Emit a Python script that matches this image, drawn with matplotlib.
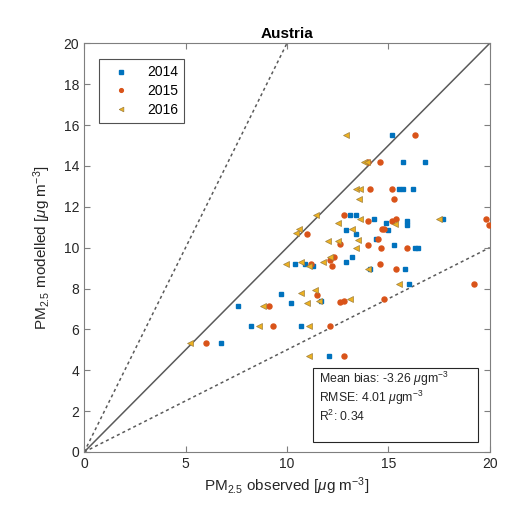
import matplotlib.pyplot as plt
from matplotlib.patches import Rectangle


# observed / modelled PM2.5 per year
obs_2014 = [15.2, 15.7, 16.8, 15.5, 15.7, 16.2, 13.1, 13.4, 14.3, 14.9, 15.9, 15.9,
            17.7, 12.9, 15.0, 13.4, 14.4, 15.3, 16.3, 16.45, 13.2, 12.9, 10.4, 10.9,
            11.3, 14.1, 15.8, 16.0, 9.7, 10.2, 11.7, 7.6, 8.25, 10.7, 6.75, 12.05]
mod_2014 = [15.5, 14.2, 14.2, 12.85, 12.85, 12.85, 11.6, 11.6, 11.4, 11.2, 11.3, 11.1,
            11.4, 10.85, 10.85, 10.65, 10.4, 10.15, 10.0, 10.0, 9.55, 9.3, 9.2, 9.2,
            9.1, 8.95, 8.95, 8.2, 7.75, 7.3, 7.4, 7.15, 6.15, 6.15, 5.35, 4.7]

obs_2015 = [16.3, 14.0, 14.6, 14.1, 15.2, 15.3, 12.8, 14.0, 15.2, 15.4, 19.8, 19.95,
            14.7, 14.8, 11.0, 14.5, 14.0, 14.65, 15.9, 12.3, 12.1, 12.2, 11.2, 14.6,
            15.4, 19.2, 11.5, 12.6, 12.8, 14.8, 9.1, 9.3, 12.1, 6.0, 12.8, 12.6]
mod_2015 = [15.5, 14.2, 14.2, 12.85, 12.85, 12.4, 11.6, 11.3, 11.3, 11.4, 11.4, 11.1,
            10.9, 10.9, 10.65, 10.4, 10.15, 10.0, 10.0, 9.55, 9.4, 9.1, 9.2, 9.2,
            8.95, 8.2, 7.7, 7.33, 7.4, 7.47, 7.15, 6.15, 6.15, 5.35, 4.7, 10.2]

obs_2016 = [12.9, 13.8, 13.95, 13.4, 13.6, 13.55, 13.6, 15.35, 12.5, 17.5, 11.45, 10.45,
            10.6, 13.2, 12.0, 12.5, 13.5, 13.4, 12.1, 11.8, 9.95, 10.7, 11.1, 14.0,
            15.5, 10.7, 11.4, 11.0, 11.6, 13.1, 8.8, 8.6, 11.1, 5.2, 11.1]
mod_2016 = [15.5, 14.2, 14.2, 12.85, 12.85, 12.4, 11.4, 11.15, 11.2, 11.4, 11.6, 10.7,
            10.9, 10.9, 10.3, 10.3, 10.35, 10.0, 9.55, 9.3, 9.2, 9.3, 9.1, 8.95,
            8.2, 7.8, 7.95, 7.3, 7.4, 7.47, 7.15, 6.15, 6.15, 5.35, 4.7]

years = ['2014', '2015', '2016']
stats = ['Mean bias: -3.26 $\\mu$gm$^{-3}$',
         'RMSE: 4.01 $\\mu$gm$^{-3}$',
         'R$^2$: 0.34']

plt.rcParams['font.family'] = ['Liberation Sans', 'DejaVu Sans']
plt.rcParams['mathtext.fontset'] = 'custom'
plt.rcParams['mathtext.rm'] = 'Liberation Sans'
plt.rcParams['mathtext.it'] = 'Liberation Sans:italic'

fig = plt.figure(figsize=(5.07, 5.09), dpi=100)
ax = fig.add_axes([0.166, 0.112, 0.800, 0.803])

axis_grey = '#7f7f7f'
line_grey = '#5a5a5a'

ax.plot([0, 20], [0, 20], color=line_grey, lw=1.1, zorder=1)
ax.plot([0, 10], [0, 20], color=line_grey, lw=1.1, ls=(0, (2, 2)), zorder=1)
ax.plot([0, 20], [0, 10], color=line_grey, lw=1.1, ls=(0, (2, 2)), zorder=1)

ax.plot(obs_2014, mod_2014, 's', color='#0072BD', ms=3, mec='#0072BD',
        label=years[0], zorder=3)
ax.plot(obs_2015, mod_2015, 'o', color='#D95319', ms=3.6, mec='#D95319',
        label=years[1], zorder=3)
ax.plot(obs_2016, mod_2016, '<', color='#EDB120', ms=4.5, mec='#A08040', mew=0.5,
        label=years[2], zorder=3)

ax.set_xlim(0, 20)
ax.set_ylim(0, 20)
ax.set_xticks([0, 5, 10, 15, 20])
ax.set_yticks(range(0, 21, 2))
ax.tick_params(direction='in', top=True, right=True, length=4, width=0.8,
               colors=axis_grey, labelcolor='#262626', labelsize=10)
for s in ax.spines.values():
    s.set_color(axis_grey)
    s.set_linewidth(0.8)

ax.set_title('Austria', fontsize=11, fontweight='bold', pad=4)
ax.set_xlabel('PM$_{2.5}$ observed [$\\mu$g m$^{-3}$]', fontsize=11, color='#262626',
              labelpad=3)
ax.set_ylabel('PM$_{2.5}$ modelled [$\\mu$g m$^{-3}$]', fontsize=11, color='#262626',
              labelpad=8)

leg = ax.legend(loc='upper left', bbox_to_anchor=(0.037, 0.961), fontsize=10,
                frameon=True, fancybox=False, edgecolor='#262626',
                handlelength=2.2, handletextpad=0.8, borderpad=0.45,
                labelspacing=0.35, borderaxespad=0, markerscale=0.75)
leg.get_frame().set_linewidth(0.8)

ax.add_patch(Rectangle((0.564, 0.025), 0.406, 0.18, transform=ax.transAxes,
                       facecolor='white', edgecolor='#262626', lw=0.8, zorder=4))
for i, txt in enumerate(stats):
    ax.text(0.578, 0.180 - i * 0.047, txt, transform=ax.transAxes, fontsize=8.8,
            va='center', ha='left', color='#262626', zorder=5)

fig.savefig('out.png', dpi=100)
